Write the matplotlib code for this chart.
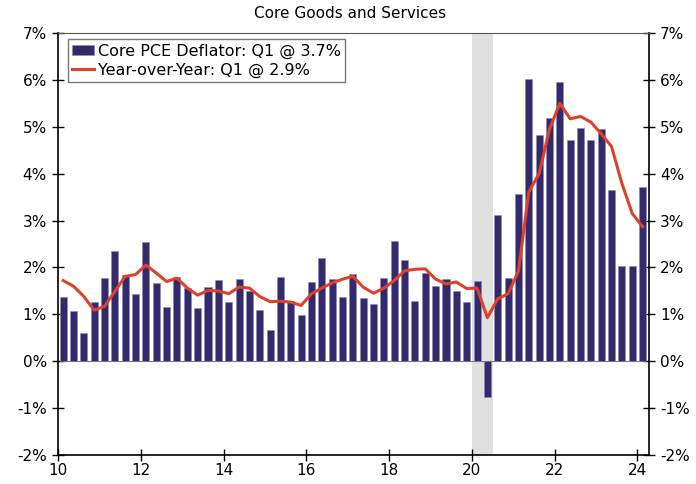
import numpy as np
import matplotlib
matplotlib.use("Agg")
import matplotlib.pyplot as plt
from matplotlib.ticker import FuncFormatter

# Quarterly data, 2010 Q1 .. 2024 Q1
start_year = 2010
qoq = [1.37, 1.08, 0.60, 1.27, 1.77, 2.36, 1.84, 1.43,
       2.55, 1.67, 1.16, 1.79, 1.56, 1.13, 1.58, 1.74,
       1.27, 1.75, 1.50, 1.09, 0.67, 1.79, 1.29, 0.99,
       1.68, 2.21, 1.75, 1.38, 1.87, 1.34, 1.21, 1.78,
       2.57, 2.16, 1.28, 1.88, 1.60, 1.76, 1.50, 1.27,
       1.71, -0.76, 3.11, 1.77, 3.57, 6.01, 4.82, 5.19,
       5.96, 4.72, 4.98, 4.71, 4.95, 3.66, 2.04, 2.04,
       3.72]
yoy = [1.72, 1.60, 1.38, 1.09, 1.17, 1.49, 1.81, 1.85,
       2.05, 1.88, 1.70, 1.77, 1.56, 1.41, 1.51, 1.50,
       1.44, 1.58, 1.56, 1.38, 1.27, 1.28, 1.26, 1.19,
       1.44, 1.56, 1.67, 1.75, 1.81, 1.58, 1.45, 1.56,
       1.72, 1.93, 1.96, 1.97, 1.75, 1.65, 1.69, 1.55,
       1.56, 0.93, 1.33, 1.44, 1.92, 3.61, 4.00, 4.95,
       5.50, 5.17, 5.22, 5.10, 4.85, 4.58, 3.79, 3.15,
       2.87]
recession = (2020.0, 2020.5)
year_ticks = list(range(2010, 2025, 2))
y_ticks = list(range(-2, 8))

bar_color = "#332a6b"
line_color = "#e0402a"

x = start_year + np.arange(len(qoq)) / 4 + 0.125

fig = plt.figure(figsize=(6.96, 4.84), dpi=100)
ax = fig.add_axes([0.0833, 0.0599, 0.8492, 0.8719])

ax.axvspan(*recession, color="#e0e0e0", zorder=0, lw=0)
bars = ax.bar(x, qoq, width=0.17, color=bar_color, edgecolor="#8e88b4", linewidth=0.4,
              label="Core PCE Deflator: Q1 @ 3.7%", zorder=2)
line, = ax.plot(x, yoy, color=line_color, lw=2.2, label="Year-over-Year: Q1 @ 2.9%", zorder=3)
ax.axhline(0, color="#777777", lw=0.8, zorder=1)

ax.set_xlim(2010, 2024.28)
ax.set_ylim(-2, 7)
ax.set_xticks(year_ticks)
ax.set_xticklabels([f"{y % 100:02d}" for y in year_ticks])
ax.set_yticks(y_ticks)
pct = FuncFormatter(lambda v, p: f"{int(v)}%")
ax.yaxis.set_major_formatter(pct)
ax.tick_params(axis="both", direction="inout", length=8, width=1, labelsize=11,
               colors="black")
ax.tick_params(axis="x", pad=2)
ax.tick_params(axis="y", right=True, labelright=True, pad=4)

for s in ["left", "right", "bottom"]:
    ax.spines[s].set_color("black")
    ax.spines[s].set_linewidth(1.2)
ax.spines["top"].set_color("#555555")
ax.spines["top"].set_linewidth(0.8)

fig.text(0.503, 0.972, "Core Goods and Services", ha="center", va="center", fontsize=11)

leg = ax.legend([bars, line], [bars.get_label(), line.get_label()],
                loc="upper left", bbox_to_anchor=(0.017, 0.985), fontsize=11.5,
                frameon=True, fancybox=False, edgecolor="#555555",
                handlelength=1.4, handleheight=0.6, handletextpad=0.2, borderpad=0.25,
                labelspacing=0.25, borderaxespad=0)
leg.get_frame().set_linewidth(1.0)

fig.savefig("out.png", dpi=100)
